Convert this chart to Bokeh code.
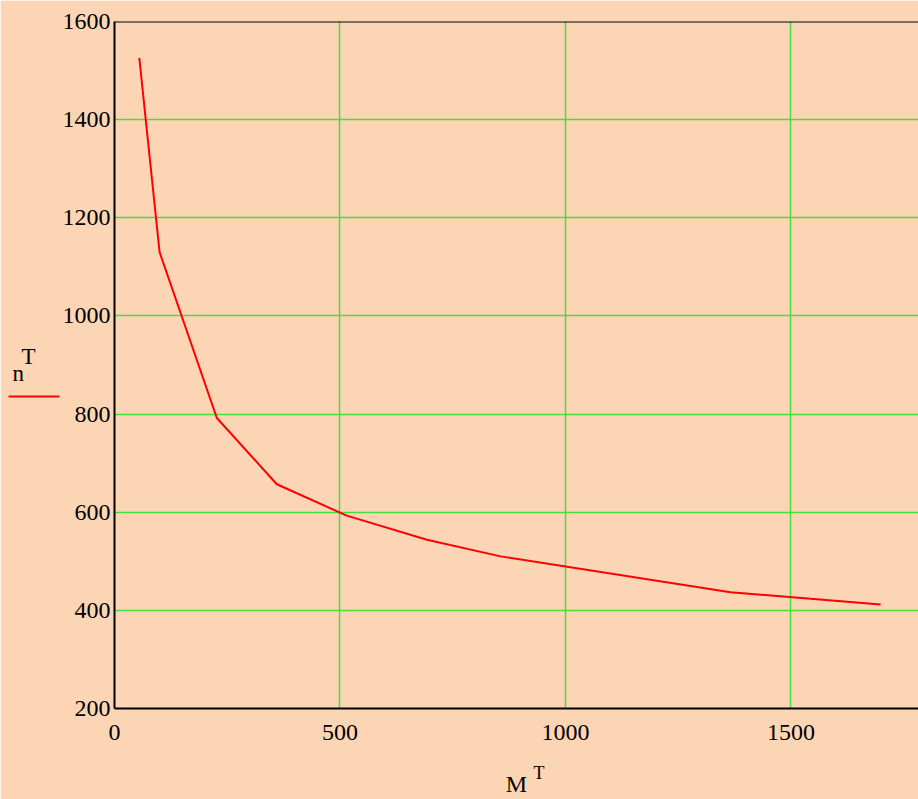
from bokeh.plotting import figure
from bokeh.models import Range1d, SingleIntervalTicker, FixedTicker, Span, LinearAxis
from bokeh.embed import file_html
from bokeh.resources import INLINE

# Data
M_T = [55, 100, 227, 360, 515, 693, 856, 1366, 1699]
n_T = [1526, 1130, 792, 657, 593, 544, 510, 437, 412]

x_ticks_interval = 500
y_ticks_interval = 200
legend_line_at = [836]   # height of the red key line beside the y title

BG = "#FCD5B5"
GRID = "#44E03A"
FONT = "Liberation Serif"
NB = "\u00a0"

p = figure(width=918, height=799, output_backend="svg", toolbar_location=None,
           x_range=Range1d(0, 1783), y_range=Range1d(200, 1600),
           min_border_left=114, min_border_right=0, min_border_top=21,
           min_border_bottom=91)
p.background_fill_color = BG
p.border_fill_color = BG
p.outline_line_color = None

p.xaxis.ticker = SingleIntervalTicker(interval=x_ticks_interval)
p.yaxis.ticker = SingleIntervalTicker(interval=y_ticks_interval)
for ax in (p.xaxis, p.yaxis):
    ax.axis_line_color = "black"
    ax.axis_line_width = 2
    ax.major_tick_line_color = None
    ax.minor_tick_line_color = None
    ax.major_tick_out = 0
    ax.major_label_text_font = FONT
    ax.major_label_text_font_size = "24px"
    ax.major_label_text_color = "black"
p.xaxis.major_label_standoff = 12
p.yaxis.major_label_standoff = 0

# superscript T of the x title (main axis label, shifted right with spaces)
p.xaxis.axis_label = NB * 10 + "T"
p.xaxis.axis_label_text_font = FONT
p.xaxis.axis_label_text_font_size = "18px"
p.xaxis.axis_label_text_font_style = "normal"
p.xaxis.axis_label_text_color = "black"
p.xaxis.axis_label_standoff = 20

# "M" of the x title on a second, bare axis below
xax2 = LinearAxis(ticker=FixedTicker(ticks=[]), axis_line_color=None,
                  major_tick_line_color=None, minor_tick_line_color=None,
                  major_tick_out=0, minor_tick_out=0, major_label_text_font_size="0px",
                  axis_label="M", axis_label_text_font=FONT,
                  axis_label_text_font_size="24px", axis_label_text_font_style="normal",
                  axis_label_text_color="black", axis_label_standoff=-15)
p.add_layout(xax2, "below")

# y title "n^T" with its red key line, on a second bare axis at the left
yax2 = LinearAxis(ticker=FixedTicker(ticks=legend_line_at), axis_line_color=None,
                  major_tick_line_color="red", major_tick_line_width=2,
                  major_tick_in=0, major_tick_out=51,
                  minor_tick_line_color=None, minor_tick_out=0,
                  major_label_overrides={legend_line_at[0]: ""},
                  major_label_text_font_size="0px", major_label_standoff=0,
                  axis_label=NB + NB + "T\nn" + NB + NB,
                  axis_label_orientation="horizontal",
                  axis_label_text_font=FONT, axis_label_text_font_size="23px",
                  axis_label_text_font_style="normal", axis_label_text_color="black",
                  axis_label_text_line_height=0.65, axis_label_standoff=-27)
p.add_layout(yax2, "left")

p.xgrid.grid_line_color = GRID
p.ygrid.grid_line_color = GRID
p.xgrid.grid_line_width = 1.5
p.ygrid.grid_line_width = 1.5

p.add_layout(Span(location=1600, dimension="width", line_color="black", line_width=2))

p.line(M_T, n_T, line_color="red", line_width=2)

open("out.html", "w").write(file_html(p, INLINE))
